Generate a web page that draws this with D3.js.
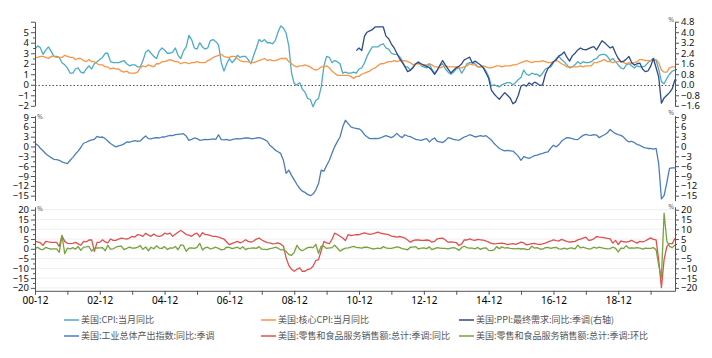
<!DOCTYPE html>
<html><head><meta charset="utf-8">
<script src="https://cdn.jsdelivr.net/npm/d3@7"></script>
<style>
body{margin:0;background:#fff}
svg{display:block}
text{font-family:"Noto Sans","DejaVu Sans",sans-serif}
.lg text{font-family:"Noto Sans CJK SC","Noto Sans",sans-serif}
</style></head>
<body><svg id="c" width="712" height="358"></svg>
<script>
// ---------- DATA (monthly, 2000-12 .. 2020-09) ----------
const startMonth = new Date(2000, 11, 1);
const endMonth = new Date(2020, 8, 1);
const ppiStart = new Date(2010, 10, 1);

const seriesNames = ["美国:CPI:当月同比","美国:核心CPI:当月同比","美国:PPI:最终需求:同比:季调(右轴)",
  "美国:工业总体产出指数:同比:季调","美国:零售和食品服务销售额:总计:季调:同比","美国:零售和食品服务销售额:总计:季调:环比"];
const seriesColors = ["#4bacc6","#f79646","#2e4a8c","#4a7ebb","#e05050","#76a33a"];

const cpi = [3.4,
3.7,3.5,2.9,3.3,3.6,3.2,2.7,2.7,2.6,2.1,1.9,1.6,
1.1,1.1,1.5,1.6,1.2,1.1,1.5,1.8,1.5,2.0,2.2,2.4,
2.6,3.0,3.0,2.2,2.1,2.1,2.1,2.2,2.3,2.0,1.8,1.9,
1.9,1.7,1.7,2.3,3.1,3.3,3.0,2.7,2.5,3.2,3.5,3.3,
3.0,3.0,3.1,3.5,2.8,2.5,3.2,3.6,4.7,4.3,3.5,3.4,
4.0,3.6,3.4,3.5,4.2,4.3,4.1,3.8,2.1,1.3,2.0,2.5,
2.1,2.4,2.8,2.6,2.7,2.7,2.4,2.0,2.8,3.5,4.3,4.1,
4.3,4.0,4.0,3.9,4.2,5.0,5.6,5.4,4.9,3.7,1.1,0.1,
0.0,0.2,-0.4,-0.7,-1.3,-1.4,-2.1,-1.5,-1.3,-0.2,1.8,2.7,
2.6,2.1,2.3,2.2,2.0,1.1,1.2,1.1,1.1,1.2,1.1,1.5,
1.6,2.1,2.7,3.2,3.6,3.6,3.6,3.8,3.9,3.5,3.4,3.0,
2.9,2.9,2.7,2.3,1.7,1.7,1.4,1.7,2.0,2.2,1.8,1.7,
1.6,2.0,1.5,1.1,1.4,1.8,2.0,1.5,1.2,1.0,1.2,1.5,
1.6,1.1,1.5,2.0,2.1,2.1,2.0,1.7,1.7,1.7,1.3,0.8,
-0.1,0.0,-0.1,-0.2,0.0,0.1,0.2,0.2,0.0,0.2,0.5,0.7,
1.4,1.0,0.9,1.1,1.0,1.0,0.8,1.1,1.5,1.6,1.7,2.1,
2.5,2.7,2.4,2.2,1.9,1.6,1.7,1.9,2.2,2.0,2.2,2.1,
2.1,2.2,2.4,2.5,2.8,2.9,2.9,2.7,2.3,2.5,2.2,1.9,
1.6,1.5,1.9,2.0,1.8,1.6,1.8,1.7,1.7,1.8,2.1,2.3,
2.5,2.3,1.5,0.3,0.1,0.6,1.0,1.3,1.4];

const coreCpi = [2.6,
2.6,2.7,2.7,2.6,2.5,2.7,2.7,2.6,2.6,2.6,2.8,2.7,
2.6,2.6,2.4,2.5,2.5,2.3,2.2,2.4,2.2,2.2,2.0,1.9,
1.9,1.7,1.7,1.5,1.6,1.5,1.5,1.3,1.2,1.3,1.1,1.1,
1.1,1.2,1.6,1.8,1.7,1.9,1.8,1.7,2.0,2.0,2.2,2.2,
2.3,2.4,2.3,2.2,2.2,2.0,2.1,2.1,2.0,2.1,2.1,2.2,
2.1,2.1,2.1,2.3,2.4,2.6,2.7,2.8,2.9,2.7,2.6,2.6,
2.7,2.7,2.5,2.3,2.2,2.2,2.2,2.1,2.1,2.2,2.3,2.4,
2.5,2.3,2.4,2.3,2.3,2.4,2.5,2.5,2.5,2.2,2.0,1.8,
1.7,1.8,1.8,1.9,1.8,1.7,1.5,1.4,1.5,1.7,1.7,1.8,
1.6,1.3,1.1,0.9,0.9,0.9,0.9,0.9,0.8,0.6,0.8,0.8,
1.0,1.1,1.2,1.3,1.5,1.6,1.8,2.0,2.0,2.1,2.2,2.2,
2.3,2.2,2.3,2.3,2.3,2.2,2.1,1.9,2.0,2.0,1.9,1.9,
1.9,2.0,1.9,1.7,1.7,1.6,1.7,1.8,1.7,1.7,1.7,1.7,
1.6,1.6,1.7,1.8,2.0,1.9,1.9,1.7,1.7,1.8,1.7,1.6,
1.6,1.7,1.8,1.8,1.7,1.8,1.8,1.8,1.9,1.9,2.0,2.1,
2.2,2.3,2.2,2.1,2.2,2.2,2.2,2.3,2.2,2.1,2.1,2.2,
2.3,2.2,2.0,1.9,1.7,1.7,1.7,1.7,1.7,1.8,1.7,1.8,
1.8,1.8,2.1,2.1,2.2,2.3,2.4,2.2,2.2,2.1,2.2,2.2,
2.2,2.1,2.0,2.1,2.0,2.1,2.2,2.4,2.4,2.3,2.3,2.3,
2.3,2.4,2.1,1.4,1.2,1.2,1.6,1.7,1.7];

// PPI final demand, from 2010-11
const ppi = [2.6,2.8,
2.6,3.7,4.0,4.1,4.2,4.4,4.4,4.4,4.4,3.7,3.5,3.1,
2.8,2.4,2.0,1.7,1.4,1.0,1.1,1.3,1.6,1.7,1.6,1.5,
1.4,1.3,1.1,0.8,1.1,1.5,1.85,1.5,1.2,0.9,1.1,1.3,
1.4,1.6,1.9,2.0,2.1,1.65,1.8,1.65,1.5,1.3,0.9,0.5,
-0.4,-0.7,-0.9,-1.1,-0.85,-0.6,-0.8,-1.0,-1.45,-1.3,-0.8,-0.1,
0.0,-0.1,0.15,0.0,0.2,0.1,-0.05,0.0,0.8,1.25,1.5,1.75,
1.9,2.2,2.3,2.5,2.1,1.8,2.2,2.4,2.65,2.8,2.7,2.65,
2.75,2.85,2.9,2.65,3.0,3.35,3.2,3.0,2.8,2.9,2.4,2.0,
1.75,1.8,1.95,2.15,1.7,1.5,1.6,1.65,1.2,1.0,1.05,1.4,
2.0,1.3,0.6,-1.4,-1.0,-0.8,-0.6,-0.3,0.4];

const indProd = [1.0,
0.4,-0.6,-1.3,-2.2,-2.8,-3.4,-3.9,-4.0,-4.2,-4.7,-5.0,-5.2,
-4.2,-3.3,-2.3,-1.4,-0.3,1.0,1.3,1.7,2.0,2.2,3.1,2.8,
2.9,2.4,1.7,0.9,0.4,-0.1,0.2,0.4,0.8,1.4,1.3,1.6,
1.8,1.6,1.7,2.5,3.2,2.4,2.3,2.6,2.7,2.6,2.9,2.9,
3.2,3.4,3.3,3.6,3.7,3.8,3.9,3.2,1.9,2.2,2.6,2.4,
1.9,2.0,2.2,2.1,2.2,2.3,2.2,3.6,2.1,2.0,2.2,1.9,
2.1,2.3,2.4,2.3,2.5,2.6,2.6,2.4,2.4,2.6,2.7,2.5,
2.1,1.6,0.4,-0.3,-1.1,-1.6,-2.1,-4.2,-8.2,-7.2,-8.8,-10.2,
-11.6,-12.8,-13.6,-14.0,-14.6,-15.0,-14.5,-13.3,-11.3,-7.2,-7.5,-5.8,
-4.2,-2.0,-0.1,1.5,2.9,6.0,8.0,7.0,6.0,5.7,5.5,5.4,
4.8,3.6,3.0,2.4,2.4,2.5,2.4,2.6,3.0,3.3,3.0,2.7,
3.2,4.0,3.2,2.7,3.6,3.2,3.0,2.6,2.2,2.0,1.9,2.2,
2.4,1.4,2.1,2.6,1.6,1.4,1.2,1.8,2.7,2.5,2.2,2.0,
1.9,2.4,2.9,3.2,3.6,3.3,2.9,3.1,3.3,3.1,3.3,2.7,
2.0,0.9,0.2,-0.6,-1.0,-1.3,-1.2,-1.3,-1.4,-2.1,-3.0,-4.2,
-3.1,-3.4,-3.6,-3.2,-2.8,-2.6,-2.3,-2.1,-1.8,-1.6,-0.5,0.4,
-0.1,0.6,1.6,2.2,2.7,2.6,2.4,2.2,2.1,2.8,3.4,3.7,
3.5,3.4,3.6,3.5,2.7,3.2,3.6,4.2,5.2,4.5,3.9,3.6,
3.4,2.8,2.0,1.4,1.6,1.2,0.6,0.4,-0.1,-0.4,-0.6,-0.6,
-0.8,-0.6,-5.2,-16.0,-15.0,-11.0,-6.7,-6.5,-6.5];

const retailYoY = [3.8,
3.5,3.0,1.8,3.8,3.5,3.3,3.3,3.3,1.3,6.7,3.8,2.8,
2.6,2.8,3.3,2.5,1.8,3.8,3.5,4.5,4.6,-1.3,3.3,3.3,
4.6,3.5,3.0,5.0,4.3,4.3,5.0,5.5,5.2,5.0,5.5,6.4,
6.0,7.3,7.0,6.4,8.0,7.0,6.4,7.6,6.6,6.4,6.8,8.0,
7.5,8.0,6.4,7.5,8.5,9.4,8.5,7.3,7.0,6.4,7.5,8.0,
6.1,8.3,7.3,7.3,6.8,6.4,6.4,6.0,5.5,5.0,3.5,2.1,
2.8,3.3,3.8,3.0,3.6,4.6,3.8,3.4,4.0,5.0,5.5,4.5,
3.8,3.2,3.0,2.5,2.6,3.0,2.4,1.3,-4.7,-8.5,-10.5,-11.5,
-10.5,-9.8,-11.5,-11.5,-10.6,-10.3,-8.9,-6.0,-5.5,-1.0,3.8,3.0,
2.6,5.0,8.0,7.3,6.4,5.5,4.2,7.3,6.8,7.0,7.3,7.2,
7.8,8.2,7.8,7.4,7.6,8.0,8.5,8.0,7.7,7.5,7.2,6.5,
6.3,6.0,6.3,6.0,5.5,4.5,3.4,4.2,4.6,4.5,4.3,4.3,
4.5,4.3,3.4,3.8,5.1,5.3,5.5,4.5,3.4,3.5,3.4,3.2,
1.7,2.5,4.6,4.5,5.1,4.6,4.3,4.8,4.6,4.4,4.0,3.4,
2.8,2.5,2.6,2.8,2.9,2.6,2.2,2.4,2.6,2.3,2.8,3.4,
3.0,2.0,2.3,2.6,2.8,2.4,2.2,2.5,2.9,3.5,4.0,4.6,
4.2,4.0,4.8,4.3,3.8,3.4,3.6,3.8,4.6,5.0,5.5,6.0,
4.3,4.5,5.1,6.3,6.0,5.8,5.6,5.3,5.1,2.9,4.3,2.2,
4.0,3.6,3.4,3.8,4.3,3.6,2.9,3.8,3.5,4.0,4.8,5.6,
4.8,4.6,-5.7,-19.9,-5.6,1.1,2.7,2.6,5.4];

const retailMoM = [0.1,
0.8,-0.3,-0.4,0.7,0.2,-0.2,0.0,0.0,-1.8,6.8,-2.5,0.3,
-0.1,0.6,-0.2,1.2,-0.8,0.9,1.0,1.2,-1.2,0.3,0.4,0.5,
0.6,-1.0,1.8,-0.2,0.0,0.8,1.2,1.4,-0.4,0.2,0.9,0.3,
0.4,0.8,1.6,-0.3,1.0,-1.0,0.8,0.0,1.5,0.4,0.2,1.1,
-0.4,0.5,0.3,1.2,-0.5,2.0,1.7,-1.3,0.3,0.5,0.2,0.7,
2.8,-0.6,0.5,0.8,-0.1,0.4,0.8,0.2,-0.6,-0.3,0.9,0.7,
0.1,0.5,0.8,0.0,1.1,-0.4,0.2,0.3,0.5,0.2,1.1,-0.2,
-0.3,-0.4,0.1,0.3,0.8,0.3,-0.5,-0.6,-1.3,-3.0,-3.3,-1.8,
1.8,-0.3,-1.0,-0.2,0.6,0.9,0.6,2.3,-2.3,1.4,1.3,0.2,
0.5,0.6,1.8,0.4,-1.2,-0.3,0.3,0.5,0.8,1.2,0.7,0.6,
0.4,0.9,0.8,0.5,-0.1,0.1,0.3,0.1,1.1,0.5,0.2,0.2,
0.6,1.0,0.7,0.1,-0.2,-0.5,0.8,0.9,1.1,-0.1,0.3,0.5,
0.1,1.0,-0.4,0.1,0.6,0.4,0.2,0.2,0.0,0.4,0.6,0.2,
-0.8,0.7,1.3,0.6,0.3,0.3,0.0,0.7,-0.3,0.3,0.5,-0.8,
-0.9,-0.6,1.1,0.1,1.0,0.4,0.6,0.2,0.1,0.0,0.2,-0.1,
0.1,-0.4,-0.3,1.3,0.4,0.6,-0.1,-0.2,0.6,0.7,0.2,0.6,
0.7,0.0,-0.2,0.3,-0.2,0.3,0.4,0.0,1.9,0.5,0.8,0.4,
-0.1,0.1,0.8,0.4,0.8,0.5,0.2,0.0,0.1,0.9,0.2,-1.6,
0.4,0.2,1.6,0.3,0.4,0.3,0.6,0.4,-0.2,0.3,0.2,0.2,
0.6,-0.5,-8.2,-14.7,18.2,4.0,1.2,0.6,1.9];

// tick values
const topLeftTicks = [-2,-1,0,1,2,3,4,5,6];
const topRightTicks = [-1.6,-0.8,0,0.8,1.6,2.4,3.2,4.0,4.8];
const midTicks = [-15,-12,-9,-6,-3,0,3,6,9];
const botTicks = [-20,-15,-10,-5,0,5,10,15,20];

// ---------- CHART ----------
const svg = d3.select("#c");
const X0 = 35, X1 = 675;
const months = d3.timeMonth.range(startMonth, d3.timeMonth.offset(endMonth, 1));
const ppiMonths = d3.timeMonth.range(ppiStart, d3.timeMonth.offset(endMonth, 1));
const x = d3.scaleTime().domain([startMonth, endMonth]).range([X0, X1]);

const yTL = d3.scaleLinear().domain([-2, 6]).range([105.8, 21.7]);
const yTR = d3.scaleLinear().domain([-1.6, 4.8]).range([105.8, 21.7]);
const yM = d3.scaleLinear().domain([-16.5, 9.4]).range([200.6, 115.7]);
const yB = d3.scaleLinear().domain([-21.5, 21.5]).range([290.8, 206.8]);

const toPts = (dates, vals) => vals.map((v, i) => ({date: dates[i], v}));

// gridlines bottom panel
svg.append("g").selectAll("line").data(botTicks).join("line")
  .attr("x1", X0).attr("x2", X1).attr("y1", d => yB(d)).attr("y2", d => yB(d))
  .attr("stroke", "#efefef").attr("stroke-width", 1);

// zero dotted line top panel
svg.append("line").attr("x1", X0).attr("x2", X1)
  .attr("y1", Math.round(yTL(0)) + 0.5).attr("y2", Math.round(yTL(0)) + 0.5)
  .attr("stroke", "#555").attr("stroke-dasharray", "1.5,2").attr("stroke-width", 1);

function drawLine(pts, scale, color, w) {
  svg.append("path").datum(pts)
    .attr("fill", "none").attr("stroke", color).attr("stroke-width", w || 1.3)
    .attr("stroke-linejoin", "round")
    .attr("d", d3.line().x(d => x(d.date)).y(d => scale(d.v)));
}
drawLine(toPts(months, cpi), yTL, seriesColors[0]);
drawLine(toPts(months, coreCpi), yTL, seriesColors[1]);
drawLine(toPts(ppiMonths, ppi), yTR, seriesColors[2]);
drawLine(toPts(months, indProd), yM, seriesColors[3]);
drawLine(toPts(months, retailYoY), yB, seriesColors[4]);
drawLine(toPts(months, retailMoM), yB, seriesColors[5]);

// axes
function yAxis(scale, side, major, fmt) {
  const xpos = side === "left" ? X0 : X1;
  const mk = side === "left" ? d3.axisLeft : d3.axisRight;
  const step = major[1] - major[0];
  const minor = major.slice(0, -1).map(d => d + step / 2);
  const g = svg.append("g").attr("transform", `translate(${xpos},0)`);
  g.call(mk(scale).tickValues(major).tickSize(4).tickSizeOuter(0).tickPadding(2).tickFormat(fmt));
  const g2 = svg.append("g").attr("transform", `translate(${xpos},0)`);
  g2.call(mk(scale).tickValues(minor).tickSize(2).tickSizeOuter(0).tickFormat(""));
  g2.select(".domain").remove();
  [g, g2].forEach(gg => {
    gg.selectAll("path,line").attr("stroke", "#555");
    gg.selectAll("text").attr("font-size", 9.5).attr("fill", "#111");
  });
}
yAxis(yTL, "left", topLeftTicks, d => d === 6 ? "" : d3.format("d")(d));
yAxis(yTR, "right", topRightTicks, d3.format(".1f"));
yAxis(yM, "left", midTicks, d3.format("d"));
yAxis(yM, "right", midTicks, d3.format("d"));
yAxis(yB, "left", botTicks, d3.format("d"));
yAxis(yB, "right", botTicks, d3.format("d"));

// x axis
const majorX = d3.range(2000, 2020, 2).map(y => new Date(y, 11, 1));
const minorX = d3.range(2001, 2020, 2).map(y => new Date(y, 11, 1));
const xa = svg.append("g").attr("transform", `translate(0,${yB.range()[0]})`);
xa.call(d3.axisBottom(x).tickValues(majorX).tickSize(4).tickSizeOuter(0).tickPadding(2).tickFormat(d3.timeFormat("%y-%m")));
const xa2 = svg.append("g").attr("transform", `translate(0,${yB.range()[0]})`);
xa2.call(d3.axisBottom(x).tickValues(minorX).tickSize(4).tickSizeOuter(0).tickFormat(""));
xa2.select(".domain").remove();
[xa, xa2].forEach(gg => {
  gg.selectAll("path,line").attr("stroke", "#555");
  gg.selectAll("text").attr("font-size", 10).attr("fill", "#000");
});

// unit labels
const unitPos = [[674, 22, "end"], [37, 119, "start"], [674, 115, "end"], [37, 211, "start"], [674, 209, "end"]];
svg.append("g").selectAll("text").data(unitPos).join("text")
  .attr("x", d => d[0]).attr("y", d => d[1]).attr("text-anchor", d => d[2])
  .attr("font-size", 7).attr("fill", "#666").text("%");

// legend
const legCols = [64, 261, 459], legRows = [320, 336];
const lg = svg.append("g").attr("class", "lg");
seriesNames.forEach((name, i) => {
  const cx = legCols[i % 3], cy = legRows[Math.floor(i / 3)];
  lg.append("line").attr("x1", cx).attr("x2", cx + 15).attr("y1", cy).attr("y2", cy)
    .attr("stroke", seriesColors[i]).attr("stroke-width", 1.5);
  lg.append("text").attr("x", cx + 17).attr("y", cy).attr("dy", "0.35em")
    .attr("font-size", 9).attr("fill", "#555").text(name);
});
</script></body></html>
